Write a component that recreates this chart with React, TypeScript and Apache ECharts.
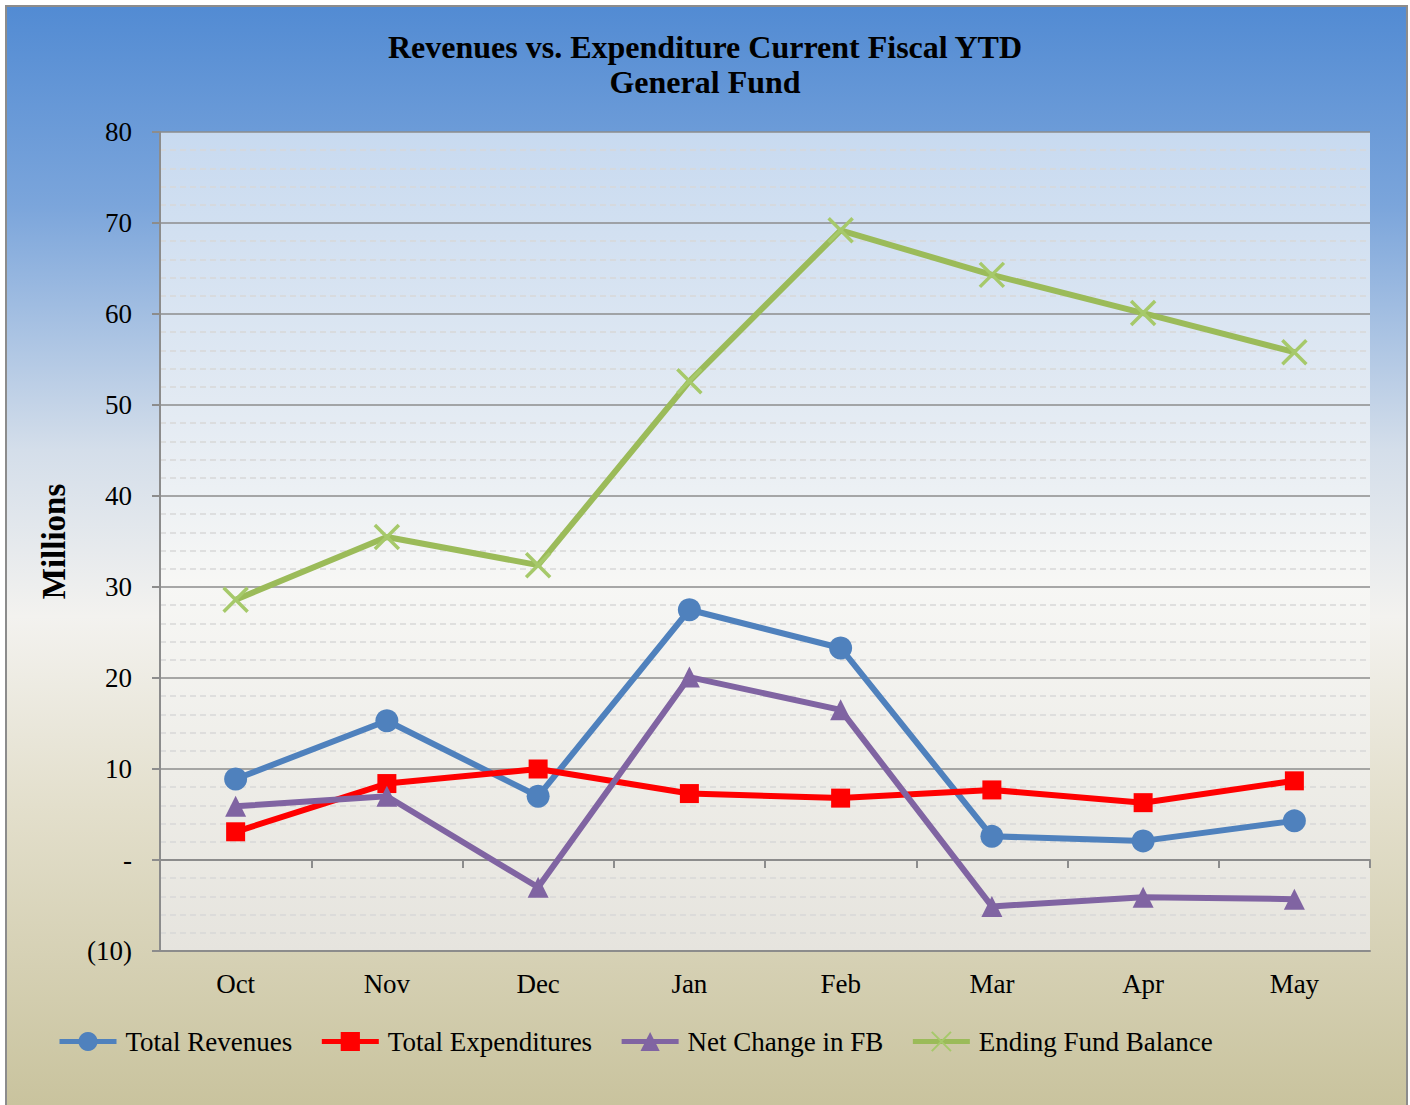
import React, { useEffect, useRef } from "react";
import * as echarts from "echarts";

const categories = ["Oct", "Nov", "Dec", "Jan", "Feb", "Mar", "Apr", "May"];
const totalRevenues = [8.9, 15.3, 7.0, 27.5, 23.3, 2.6, 2.1, 4.3];
const totalExpenditures = [3.1, 8.4, 10.0, 7.3, 6.8, 7.7, 6.3, 8.7];
const netChangeFB = [5.9, 7.0, -3.0, 20.1, 16.5, -5.1, -4.1, -4.3];
const endingFundBalance = [28.6, 35.5, 32.4, 52.6, 69.2, 64.3, 60.1, 55.8];
const yMin = -10;
const yMax = 80;
const yInterval = 10;

const SERIF = "'Liberation Serif', 'Times New Roman', serif";

export default function App() {
  const ref = useRef<HTMLDivElement>(null);
  useEffect(() => {
    document.body.style.margin = "0";
    const chart = echarts.init(ref.current!, null, { renderer: "svg" });
    const crossPath = "path://M0,0L10,10M10,0L0,10";
    const option: any = {
      animation: false,
      backgroundColor: "#ffffff",
      graphic: [
        {
          type: "rect",
          z: -10,
          silent: true,
          shape: { x: 6, y: 6, width: 1401, height: 1110 },
          style: {
            fill: new echarts.graphic.LinearGradient(0, 0, 0, 1, [
              { offset: 0, color: "#528bd3" },
              { offset: 0.18, color: "#7ba5db" },
              { offset: 0.4, color: "#d4deea" },
              { offset: 0.55, color: "#f3f2ef" },
              { offset: 0.72, color: "#e3dfcc" },
              { offset: 1, color: "#c8c29c" },
            ]),
            stroke: "#8c8c8c",
            lineWidth: 2,
          },
        },
      ],
      title: {
        text: "Revenues vs. Expenditure Current Fiscal YTD\nGeneral Fund",
        left: "center",
        top: 24,
        textStyle: {
          fontFamily: SERIF,
          fontWeight: "bold",
          fontSize: 32,
          lineHeight: 35,
          color: "#000",
        },
      },
      legend: {
        left: 52,
        top: 1023,
        itemWidth: 57,
        itemHeight: 24,
        itemGap: 27,
        lineStyle: { width: 5 },
        textStyle: { fontFamily: SERIF, fontSize: 27, color: "#000", padding: [0, 0, 0, 4] },
        data: ["Total Revenues", "Total Expenditures", "Net Change in FB", "Ending Fund Balance"],
      },
      grid: {
        left: 160,
        top: 132,
        right: 40,
        bottom: 154,
        show: true,
        borderWidth: 0,
        backgroundColor: new echarts.graphic.LinearGradient(0, 0, 0, 1, [
          { offset: 0, color: "#c8daf0" },
          { offset: 0.35, color: "#e4ebf3" },
          { offset: 0.55, color: "#f7f7f5" },
          { offset: 0.78, color: "#eeede8" },
          { offset: 1, color: "#e6e4de" },
        ]),
      },
      xAxis: [
        {
          type: "category",
          data: categories,
          boundaryGap: true,
          axisLine: { onZero: false, lineStyle: { color: "#8c8c8c", width: 2 } },
          axisTick: { show: false },
          axisLabel: { fontFamily: SERIF, fontSize: 27, color: "#000", margin: 19 },
        },
        {
          type: "category",
          data: categories,
          position: "bottom",
          boundaryGap: true,
          axisLine: { onZero: true, lineStyle: { color: "#8c8c8c", width: 2 } },
          axisTick: { show: true, length: 8, lineStyle: { color: "#8c8c8c", width: 2 } },
          axisLabel: { show: false },
        },
      ],
      yAxis: {
        type: "value",
        min: yMin,
        max: yMax,
        interval: yInterval,
        name: "Millions",
        nameLocation: "middle",
        nameRotate: 90,
        nameGap: 90,
        nameTextStyle: { fontFamily: SERIF, fontSize: 33, fontWeight: "bold", color: "#000" },
        axisLine: { show: true, lineStyle: { color: "#8c8c8c", width: 2 } },
        axisTick: { show: true, length: 8, lineStyle: { color: "#8c8c8c", width: 2 } },
        axisLabel: {
          fontFamily: SERIF,
          fontSize: 27,
          color: "#000",
          margin: 28,
          formatter: (v: number) => (v === 0 ? "-" : v < 0 ? "(" + Math.abs(v) + ")" : String(v)),
        },
        splitLine: { show: true, lineStyle: { color: "#8c8c8c", width: 1.5 } },
        minorTick: { show: false, splitNumber: 5 },
        minorSplitLine: { show: true, lineStyle: { color: "#d8d8d8", width: 1.5, type: [6, 4] } },
      },
      series: [
        {
          name: "Total Revenues",
          type: "line",
          data: totalRevenues,
          symbol: "circle",
          symbolSize: 23,
          lineStyle: { color: "#4f81bd", width: 6 },
          itemStyle: { color: "#4f81bd" },
        },
        {
          name: "Total Expenditures",
          type: "line",
          data: totalExpenditures,
          symbol: "rect",
          symbolSize: 19,
          lineStyle: { color: "#ff0000", width: 6 },
          itemStyle: { color: "#ff0000" },
        },
        {
          name: "Net Change in FB",
          type: "line",
          data: netChangeFB,
          symbol: "triangle",
          symbolSize: 21,
          lineStyle: { color: "#8064a2", width: 6 },
          itemStyle: { color: "#8064a2" },
        },
        {
          name: "Ending Fund Balance",
          type: "line",
          data: endingFundBalance,
          symbol: crossPath,
          symbolSize: 24,
          lineStyle: { color: "#9bbb59", width: 6 },
          itemStyle: { color: "#a6c96a", borderColor: "#a6c96a", borderWidth: 3.5 },
        },
      ],
    };
    chart.setOption(option);
    return () => chart.dispose();
  }, []);
  return (
    <div
      ref={ref}
      style={{ position: "absolute", left: 0, top: 0, width: 1410, height: 1105 }}
    />
  );
}
